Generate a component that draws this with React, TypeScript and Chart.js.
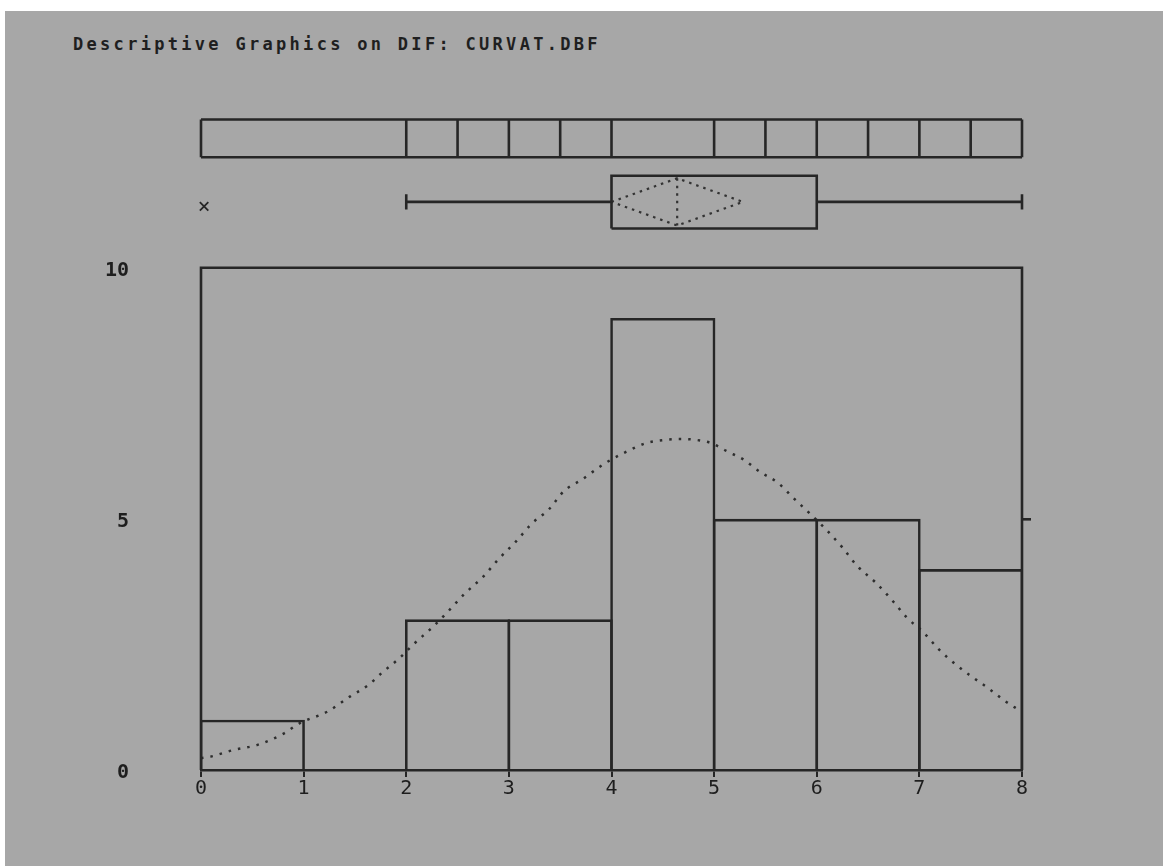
import React, { useEffect, useRef } from "react";
import { Chart, registerables } from "chart.js";

Chart.register(...registerables);

// ---------- data ----------
const TITLE = "Descriptive Graphics on DIF: CURVAT.DBF";

const binStarts = [0, 1, 2, 3, 4, 5, 6, 7];
const binCounts = [1, 0, 3, 3, 9, 5, 5, 4];

const curveX = [
  0.0, 0.08, 0.32, 0.55, 0.81, 0.96, 1.23, 1.45, 1.63, 1.76, 1.93, 2.08, 2.26, 2.4, 2.57, 2.75,
  2.9, 3.07, 3.22, 3.39, 3.54, 3.71, 3.94, 4.1, 4.34, 4.51, 4.67, 4.83, 4.97, 5.14, 5.28, 5.45,
  5.62, 5.77, 5.93, 6.09, 6.25, 6.39, 6.57, 6.73, 6.88, 7.04, 7.19, 7.36, 7.51, 7.67, 7.83, 7.98,
];
const curveY = [
  0.24, 0.26, 0.4, 0.5, 0.73, 0.93, 1.16, 1.46, 1.69, 1.93, 2.22, 2.52, 2.85, 3.14, 3.51, 3.85,
  4.2, 4.55, 4.9, 5.19, 5.56, 5.78, 6.11, 6.29, 6.51, 6.57, 6.59, 6.57, 6.51, 6.33, 6.19, 5.93,
  5.72, 5.42, 5.11, 4.79, 4.43, 4.07, 3.74, 3.39, 3.03, 2.74, 2.4, 2.09, 1.86, 1.63, 1.38, 1.18,
];

const stripEdges = [0, 2, 2.5, 3, 3.5, 4, 5, 5.5, 6, 6.5, 7, 7.5, 8];

const whiskerLow = 2;
const q1 = 4;
const q3 = 6;
const whiskerHigh = 8;
const outliers = [0];
const meanValue = 4.64;
const meanCiLow = 4.0;
const meanCiHigh = 5.28;

const xTickValues = [0, 1, 2, 3, 4, 5, 6, 7, 8];
const yTickValues = [0, 5, 10];
const rightTickValues = [5];
const histTop = 10;

// ---------- layout (data units on the shared y scale) ----------
const Y_MAX = 13;
const STRIP_TOP = 12.95;
const STRIP_BOTTOM = 12.2;
const BOX_TOP = 11.83;
const BOX_BOTTOM = 10.78;
const BOX_MID = 11.31;
const CAP_HALF = 0.15;
const DIAMOND_HALF = 0.47;

const INK = "#262626";
const BG = "#a7a7a7";
const LW = 2.6;

function lineDs(label: string, data: any[], extra: any = {}) {
  return {
    type: "line",
    label,
    data,
    borderColor: INK,
    borderWidth: LW,
    pointRadius: 0,
    fill: false,
    tension: 0,
    spanGaps: false,
    clip: false,
    ...extra,
  };
}

export default function App() {
  const ref = useRef<HTMLCanvasElement | null>(null);

  useEffect(() => {
    if (!ref.current) return;
    const xMin = xTickValues[0];
    const xMax = xTickValues[xTickValues.length - 1];

    const histData = binStarts.map((s, i) => ({ x: s + 0.5, y: binCounts[i] }));

    const frameData = [
      { x: xMin, y: 0 },
      { x: xMin, y: histTop },
      { x: xMax, y: histTop },
      { x: xMax, y: 0 },
    ];

    const stripData: any[] = [
      { x: xMin, y: STRIP_TOP },
      { x: xMax, y: STRIP_TOP },
      { x: xMax, y: null },
      { x: xMin, y: STRIP_BOTTOM },
      { x: xMax, y: STRIP_BOTTOM },
      { x: xMax, y: null },
    ];
    stripEdges.forEach((e) => {
      stripData.push({ x: e, y: STRIP_BOTTOM }, { x: e, y: STRIP_TOP }, { x: e, y: null });
    });

    const boxData: any[] = [
      { x: q1, y: BOX_BOTTOM },
      { x: q1, y: BOX_TOP },
      { x: q3, y: BOX_TOP },
      { x: q3, y: BOX_BOTTOM },
      { x: q1, y: BOX_BOTTOM },
      { x: q1, y: null },
      { x: whiskerLow, y: BOX_MID },
      { x: q1, y: BOX_MID },
      { x: q1, y: null },
      { x: whiskerLow, y: BOX_MID - CAP_HALF },
      { x: whiskerLow, y: BOX_MID + CAP_HALF },
      { x: whiskerLow, y: null },
      { x: q3, y: BOX_MID },
      { x: whiskerHigh, y: BOX_MID },
      { x: whiskerHigh, y: null },
      { x: whiskerHigh, y: BOX_MID - CAP_HALF },
      { x: whiskerHigh, y: BOX_MID + CAP_HALF },
    ];

    const diamondData = [
      { x: meanCiLow, y: BOX_MID },
      { x: meanValue, y: BOX_MID + DIAMOND_HALF },
      { x: meanCiHigh, y: BOX_MID },
      { x: meanValue, y: BOX_MID - DIAMOND_HALF },
      { x: meanCiLow, y: BOX_MID },
      { x: meanCiLow, y: null },
      { x: meanValue, y: BOX_MID + DIAMOND_HALF },
      { x: meanValue, y: BOX_MID - DIAMOND_HALF },
    ];

    const outlierData = outliers.map((v) => ({ x: v + 0.03, y: BOX_MID - 0.09 }));
    const curveData = curveX.map((x, i) => ({ x, y: curveY[i] }));

    const chart = new Chart(ref.current, {
      type: "bar",
      data: {
        datasets: [
          {
            type: "bar",
            label: "hist",
            data: histData,
            backgroundColor: "rgba(0,0,0,0)",
            borderColor: INK,
            borderWidth: LW,
            borderSkipped: "start",
            barPercentage: 1.025,
            categoryPercentage: 1,
            yAxisID: "y",
          },
          lineDs("frame", frameData),
          lineDs("strip", stripData),
          lineDs("box", boxData),
          lineDs("diamond", diamondData, { borderDash: [2.5, 5], borderWidth: 2.2, borderColor: "#333" }),
          {
            type: "scatter",
            label: "outlier",
            data: outlierData,
            pointStyle: "crossRot",
            pointRadius: 6,
            borderWidth: 1.8,
            borderColor: INK,
            backgroundColor: INK,
            clip: false,
          },
          lineDs("curve", curveData, {
            borderDash: [2.5, 7],
            borderWidth: 2.5,
            borderColor: "#2e2e2e",
            cubicInterpolationMode: "monotone",
          }),
        ] as any,
      },
      options: {
        responsive: false,
        animation: false,
        events: [],
        layout: { padding: { left: 0, right: 131, top: 106, bottom: 56 } },
        plugins: { legend: { display: false }, tooltip: { enabled: false }, title: { display: false } },
        scales: {
          x: {
            type: "linear",
            min: xMin,
            max: xMax,
            offset: false,
            afterBuildTicks: (s: any) => {
              s.ticks = xTickValues.map((v) => ({ value: v }));
            },
            afterFit: (s: any) => {
              s.height = 40;
            },
            grid: {
              display: true,
              drawOnChartArea: false,
              drawTicks: true,
              tickLength: 7,
              color: INK,
              lineWidth: 2,
              offset: false,
            },
            border: { display: true, color: INK, width: LW },
            ticks: {
              color: "#1e1e1e",
              font: { family: "DejaVu Sans Mono", size: 20 },
              padding: 0,
              maxRotation: 0,
              autoSkip: false,
            },
          },
          y: {
            type: "linear",
            position: "left",
            min: 0,
            max: Y_MAX,
            afterBuildTicks: (s: any) => {
              s.ticks = yTickValues.map((v) => ({ value: v }));
            },
            afterFit: (s: any) => {
              s.width = 196;
            },
            grid: { display: false },
            border: { display: false },
            ticks: {
              color: "#1e1e1e",
              font: { family: "DejaVu Sans Mono", size: 20, weight: "bold" },
              padding: 64,
              labelOffset: 3,
            },
          },
          y2: {
            type: "linear",
            position: "right",
            min: 0,
            max: Y_MAX,
            afterBuildTicks: (s: any) => {
              s.ticks = rightTickValues.map((v) => ({ value: v }));
            },
            afterFit: (s: any) => {
              s.width = 10;
            },
            grid: {
              display: true,
              drawOnChartArea: false,
              drawTicks: true,
              tickLength: 9,
              color: INK,
              lineWidth: LW,
            },
            border: { display: false },
            ticks: { display: false },
          },
        },
      } as any,
    });
    return () => chart.destroy();
  }, []);

  return (
    <div
      style={{
        position: "absolute",
        left: 5,
        top: 11,
        width: 1158,
        height: 855,
        background: BG,
        overflow: "hidden",
      }}
    >
      <div
        style={{
          position: "absolute",
          left: 68,
          top: 25,
          fontFamily: "'DejaVu Sans Mono', monospace",
          fontWeight: "bold",
          fontSize: 17,
          lineHeight: "17px",
          letterSpacing: "3.3px",
          color: "#1f1f1f",
          whiteSpace: "pre",
        }}
      >
        {TITLE}
      </div>
      <canvas
        ref={ref}
        width={1158}
        height={855}
        style={{ position: "absolute", left: 0, top: 0, width: 1158, height: 855 }}
      />
    </div>
  );
}
